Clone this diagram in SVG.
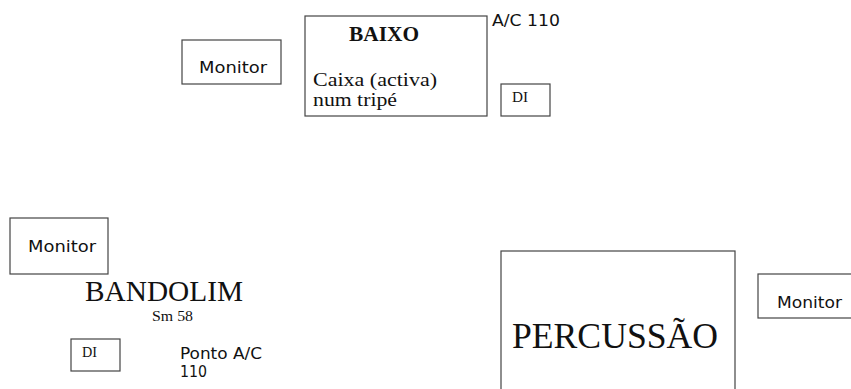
<svg xmlns="http://www.w3.org/2000/svg" width="851" height="389" viewBox="0 0 851 389">
<style>
rect.box{fill:#fff;stroke:#444;stroke-width:1.2}
.sans{font-family:"DejaVu Sans","Noto Sans",sans-serif;fill:#111;font-size:16px}
.serif{font-family:"Liberation Serif","DejaVu Serif",serif;fill:#111}
.di{font-size:14px}
</style>
<rect width="851" height="389" fill="#fff"/>
<g id="monitor-top"><rect class="box" x="182" y="40" width="99" height="44"/><text class="sans" x="199" y="73" textLength="68" lengthAdjust="spacingAndGlyphs">Monitor</text></g>
<g id="baixo"><rect class="box" x="305" y="16" width="182" height="100"/>
<text class="serif" x="349" y="41" font-size="21" font-weight="bold" textLength="70" lengthAdjust="spacingAndGlyphs">BAIXO</text>
<text class="serif" x="313" y="86" font-size="19.5" textLength="124" lengthAdjust="spacingAndGlyphs">Caixa (activa)</text>
<text class="serif" x="313" y="106" font-size="19.5" textLength="84" lengthAdjust="spacingAndGlyphs">num tripé</text></g>
<g id="ac110"><text class="sans" x="492" y="26" textLength="68" lengthAdjust="spacingAndGlyphs">A/C 110</text></g>
<g id="di-top"><rect class="box" x="501" y="84" width="49" height="32"/><text class="serif di" x="512" y="102" textLength="16" lengthAdjust="spacingAndGlyphs">DI</text></g>
<g id="monitor-left"><rect class="box" x="10" y="218" width="98" height="56"/><text class="sans" x="28" y="252" textLength="68" lengthAdjust="spacingAndGlyphs">Monitor</text></g>
<g id="bandolim"><text class="serif" x="85" y="301" font-size="29" textLength="158" lengthAdjust="spacingAndGlyphs">BANDOLIM</text>
<text class="serif" x="152" y="321" font-size="15" textLength="41" lengthAdjust="spacingAndGlyphs">Sm 58</text></g>
<g id="di-left"><rect class="box" x="71" y="339" width="49" height="32"/><text class="serif di" x="82" y="357" textLength="15" lengthAdjust="spacingAndGlyphs">DI</text></g>
<g id="ponto"><text class="sans" x="180" y="359" textLength="82" lengthAdjust="spacingAndGlyphs">Ponto A/C</text><text class="sans" x="180" y="377" textLength="27" lengthAdjust="spacingAndGlyphs">110</text></g>
<g id="percussao"><rect class="box" x="501" y="251" width="234" height="145"/><text class="serif" x="512" y="348" font-size="35" textLength="206" lengthAdjust="spacingAndGlyphs">PERCUSSÃO</text></g>
<g id="monitor-right"><rect class="box" x="758" y="274" width="100" height="44"/><text class="sans" x="777" y="307.5" textLength="65" lengthAdjust="spacingAndGlyphs">Monitor</text></g>
<g id="connectors"/>
</svg>
